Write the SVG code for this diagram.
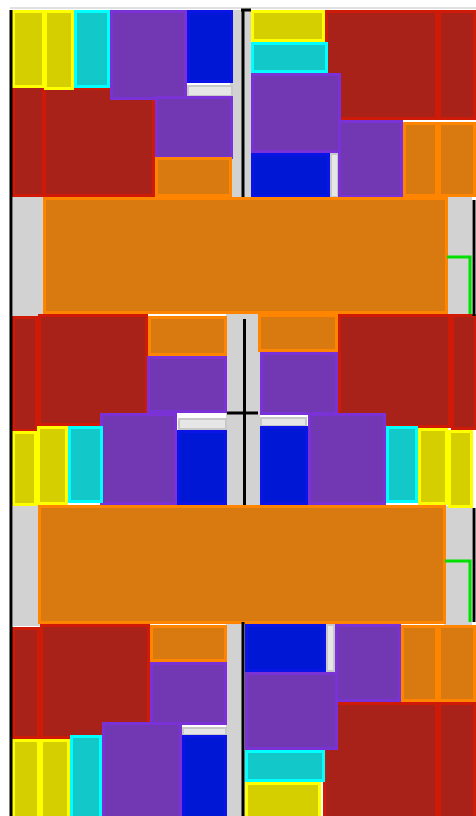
<svg xmlns="http://www.w3.org/2000/svg" width="476" height="816" viewBox="0 0 476 816">
<style>
rect{stroke-width:3}
.y{fill:#d6cf00;stroke:#ffff00}
.c{fill:#12c8c8;stroke:#00ffff}
.p{fill:#7238b4;stroke:#7a32d6}
.b{fill:#0018d6;stroke:#0a14e6}
.r{fill:#a8221a;stroke:#d01a08}
.o{fill:#d87a10;stroke:#ff8400}
.w{fill:#e6e6e6;stroke:#c8c8c8;stroke-width:2}
.g{fill:#d2d2d2;stroke:none}
.k{stroke:#000;stroke-width:3}
.gr{stroke:#00e000;stroke-width:3;fill:none}
</style>
<rect x="0" y="0" width="476" height="816" fill="#ffffff" stroke="none"/>
<line x1="10" y1="8" x2="476" y2="8" stroke="#e0e0e0" stroke-width="2"/>
<g id="gray-strips">
<rect class="g" x="13" y="196" width="32" height="122"/>
<rect class="g" x="444" y="196" width="28" height="122"/>
<rect class="g" x="13" y="504" width="28" height="122"/>
<rect class="g" x="444" y="506" width="28" height="122"/>
<rect class="g" x="230" y="10" width="22" height="190"/>
<rect class="g" x="226" y="314" width="34" height="194"/>
<rect class="g" x="226" y="622" width="22" height="194"/>
</g>
<g id="top-left">
<rect class="r" x="13.5" y="84.5" width="30" height="111"/>
<rect class="r" x="44.5" y="88.5" width="109" height="107"/>
<rect class="y" x="13.5" y="11.5" width="30" height="75"/>
<rect class="y" x="45.5" y="11.5" width="27" height="77"/>
<rect class="c" x="75.5" y="11.5" width="33" height="75"/>
<rect class="p" x="111.5" y="11.5" width="74" height="87"/>
<rect class="b" x="188.5" y="11.5" width="43" height="70"/>
<rect class="w" x="188" y="86" width="44" height="10"/>
<rect class="p" x="156.5" y="97.5" width="75" height="60"/>
<rect class="o" x="156.5" y="158.5" width="74" height="37"/>
</g>
<g id="top-right">
<rect class="r" x="326.5" y="11.5" width="110" height="107"/>
<rect class="r" x="439.5" y="11.5" width="35" height="107"/>
<rect class="y" x="252.5" y="11.5" width="71" height="29"/>
<rect class="c" x="252.5" y="43.5" width="74" height="28"/>
<rect class="p" x="252.5" y="74.5" width="87" height="77"/>
<rect class="b" x="252.5" y="154.5" width="76" height="42"/>
<rect class="w" x="331" y="154" width="7" height="43"/>
<rect class="p" x="339.5" y="121.5" width="62" height="75"/>
<rect class="o" x="404.5" y="123.5" width="32" height="72"/>
<rect class="o" x="439.5" y="123.5" width="35" height="72"/>
</g>
<g id="band-1">
<rect class="o" x="44.5" y="198.5" width="402" height="114"/>
</g>
<g id="middle-left">
<rect class="r" x="13.5" y="317.5" width="23" height="113"/>
<rect class="r" x="39.5" y="315.5" width="107" height="109"/>
<rect class="o" x="149.5" y="317.5" width="76" height="37"/>
<rect class="p" x="148.5" y="357.5" width="77" height="54"/>
<rect class="p" x="101.5" y="414.5" width="74" height="89"/>
<rect class="w" x="179" y="419" width="47" height="10"/>
<rect class="b" x="178.5" y="431.5" width="47" height="72"/>
<rect class="y" x="13.5" y="432.5" width="22" height="72"/>
<rect class="y" x="38.5" y="427.5" width="28" height="76"/>
<rect class="c" x="69.5" y="427.5" width="32" height="74"/>
</g>
<g id="middle-right">
<rect class="r" x="339.5" y="315.5" width="110" height="111"/>
<rect class="r" x="452.5" y="315.5" width="23" height="113"/>
<rect class="o" x="259.5" y="315.5" width="77" height="35"/>
<rect class="p" x="261.5" y="353.5" width="75" height="60"/>
<rect class="w" x="261" y="418" width="45" height="8"/>
<rect class="b" x="261.5" y="427.5" width="45" height="76"/>
<rect class="p" x="309.5" y="414.5" width="75" height="89"/>
<rect class="c" x="387.5" y="427.5" width="29" height="74"/>
<rect class="y" x="419.5" y="429.5" width="27" height="74"/>
<rect class="y" x="449.5" y="431.5" width="22" height="75"/>
</g>
<g id="band-2">
<rect class="o" x="39.5" y="506.5" width="405" height="116"/>
</g>
<g id="bottom-left">
<rect class="r" x="13.5" y="628.5" width="25" height="109"/>
<rect class="r" x="41.5" y="625.5" width="107" height="112"/>
<rect class="o" x="151.5" y="626.5" width="74" height="34"/>
<rect class="p" x="151.5" y="663.5" width="74" height="60"/>
<rect class="p" x="103.5" y="723.5" width="77" height="96"/>
<rect class="w" x="183" y="728" width="43" height="7"/>
<rect class="b" x="183.5" y="736.5" width="42" height="82"/>
<rect class="y" x="13.5" y="740.5" width="25" height="78"/>
<rect class="y" x="41.5" y="740.5" width="27" height="78"/>
<rect class="c" x="71.5" y="736.5" width="29" height="82"/>
</g>
<g id="bottom-right">
<rect class="b" x="246.5" y="625.5" width="78" height="45"/>
<rect class="w" x="327" y="625" width="7" height="46"/>
<rect class="p" x="336.5" y="625.5" width="63" height="75"/>
<rect class="o" x="402.5" y="626.5" width="34" height="74"/>
<rect class="o" x="439.5" y="626.5" width="35" height="74"/>
<rect class="r" x="324.5" y="703.5" width="112" height="115"/>
<rect class="r" x="439.5" y="703.5" width="35" height="115"/>
<rect class="p" x="246.5" y="673.5" width="90" height="75"/>
<rect class="c" x="246.5" y="751.5" width="77" height="29"/>
<rect class="y" x="246.5" y="783.5" width="73" height="35"/>
</g>
<g id="connectors">
<line class="k" x1="11" y1="10" x2="11" y2="816"/>
<line class="k" x1="243" y1="10" x2="243" y2="197"/>
<line class="k" x1="241" y1="10" x2="251" y2="10"/>
<line class="k" x1="244.5" y1="319" x2="244.5" y2="505"/>
<line class="k" x1="227" y1="413" x2="258" y2="413"/>
<line class="k" x1="243" y1="622" x2="243" y2="816"/>
<line class="k" x1="474" y1="200" x2="474" y2="316"/>
<line class="k" x1="474" y1="508" x2="474" y2="622"/>
<polyline class="gr" points="447,257 470,257 470,314"/>
<polyline class="gr" points="445,561 470,561 470,622"/>
</g>
</svg>
